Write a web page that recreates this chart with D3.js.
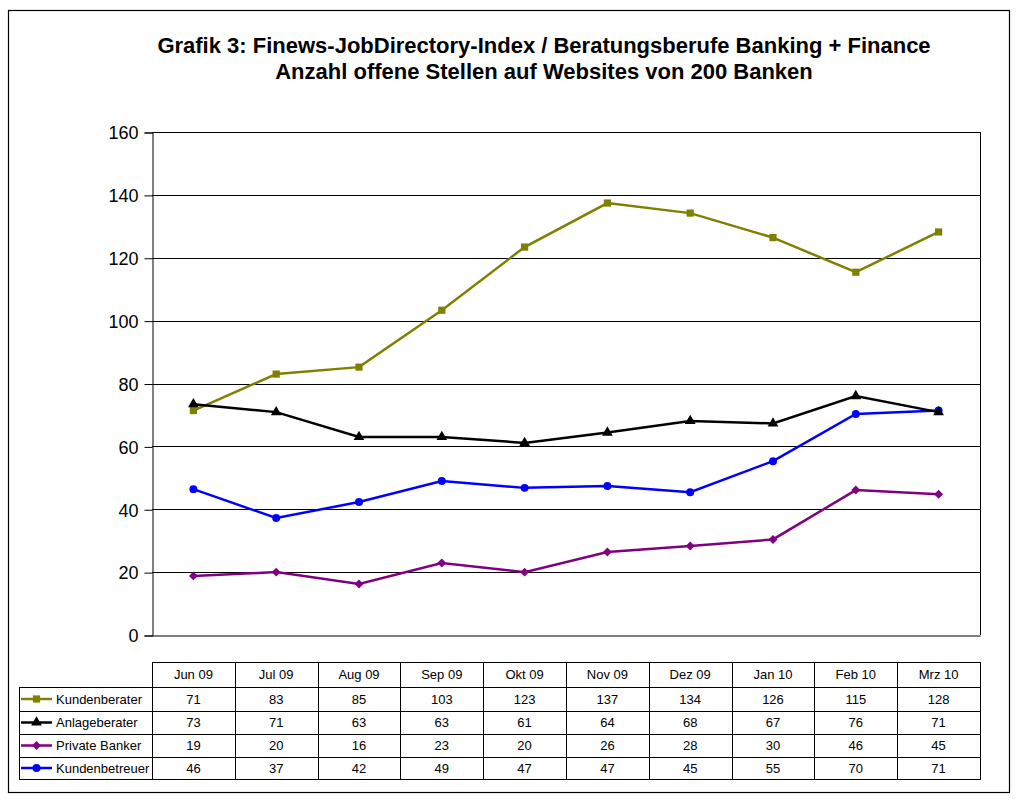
<!DOCTYPE html>
<html><head><meta charset="utf-8">
<script src="https://cdn.jsdelivr.net/npm/d3@7/dist/d3.min.js"></script>
<style>
html,body{margin:0;padding:0;background:#fff;}
svg text{font-family:"Liberation Sans",Arial,sans-serif;}
</style></head>
<body>
<svg id="chart" width="1020" height="802"></svg>
<script>
const categories = ["Jun 09","Jul 09","Aug 09","Sep 09","Okt 09","Nov 09","Dez 09","Jan 10","Feb 10","Mrz 10"];
const seriesNames = ["Kundenberater","Anlageberater","Private Banker","Kundenbetreuer"];
const kundenberater = [71.4,83.0,85.2,103.3,123.4,137.4,134.2,126.4,115.4,128.2];
const anlageberater = [73.4,70.9,63.0,63.0,61.1,64.4,68.1,67.3,76.0,70.9];
const privateBanker = [18.8,20.0,16.2,22.9,20.0,26.4,28.3,30.4,46.1,44.8];
const kundenbetreuer = [46.4,37.2,42.3,49.0,46.8,47.4,45.4,55.3,70.3,71.4];
const tableKundenberater = [71,83,85,103,123,137,134,126,115,128];
const tableAnlageberater = [73,71,63,63,61,64,68,67,76,71];
const tablePrivateBanker = [19,20,16,23,20,26,28,30,46,45];
const tableKundenbetreuer = [46,37,42,49,47,47,45,55,70,71];
const yTicks = [0,20,40,60,80,100,120,140,160];
const titleLines = ["Grafik 3: Finews-JobDirectory-Index / Beratungsberufe Banking + Finance","Anzahl offene Stellen auf Websites von 200 Banken"];

const series = [
  {name:seriesNames[0], values:kundenberater, table:tableKundenberater, color:"#808000", marker:"square"},
  {name:seriesNames[1], values:anlageberater, table:tableAnlageberater, color:"#000000", marker:"triangle"},
  {name:seriesNames[2], values:privateBanker, table:tablePrivateBanker, color:"#800080", marker:"diamond"},
  {name:seriesNames[3], values:kundenbetreuer, table:tableKundenbetreuer, color:"#0000ff", marker:"circle"}
];

const svg = d3.select("#chart");
svg.append("rect").attr("x",8.5).attr("y",10.5).attr("width",1001).attr("height",782)
  .attr("fill","none").attr("stroke","#000").attr("stroke-width",1.2);

svg.append("g").selectAll("text").data(titleLines).join("text")
  .attr("x",544).attr("y",(d,i)=>53+i*26).attr("text-anchor","middle")
  .attr("font-size",22).attr("font-weight","bold").text(d=>d);

const L=152, R=980, T=132, B=635;
const x = d3.scaleBand().domain(categories).range([L,R]);
const y = d3.scaleLinear().domain([0,160]).range([B,T]);

svg.append("g").selectAll("line").data(yTicks.filter(d=>d>0)).join("line")
  .attr("x1",L).attr("x2",R).attr("y1",d=>Math.round(y(d))+0.5).attr("y2",d=>Math.round(y(d))+0.5)
  .attr("stroke","#000").attr("stroke-width",1);
svg.append("line").attr("x1",R+0.5).attr("x2",R+0.5).attr("y1",T).attr("y2",B).attr("stroke","#000");

const yAxis = d3.axisLeft(y).tickValues(yTicks).tickSize(8).tickPadding(6);
const gy = svg.append("g").attr("transform",`translate(${L+0.5},0.5)`).call(yAxis);
gy.selectAll("text").attr("font-size",18).attr("font-family","Liberation Sans, Arial, sans-serif").attr("fill","#000").attr("dy","0.35em");
gy.selectAll("line").attr("stroke","#000");
gy.select(".domain").attr("stroke","#000");
const xAxis = d3.axisBottom(x).tickSize(0).tickFormat("");
const gx = svg.append("g").attr("transform",`translate(0,${B+0.5})`).call(xAxis);
gx.select(".domain").attr("stroke","#000");

const diamond = {draw(ctx,size){const r=Math.sqrt(size/2);ctx.moveTo(0,-r);ctx.lineTo(r,0);ctx.lineTo(0,r);ctx.lineTo(-r,0);ctx.closePath();}};
const symbolFor = m => m==="square"?d3.symbolSquare:m==="triangle"?d3.symbolTriangle:m==="diamond"?diamond:d3.symbolCircle;
const sizeFor = m => m==="square"?52:m==="triangle"?50:m==="diamond"?40:50;

const line = d3.line().x((d,i)=>x(categories[i])+x.bandwidth()/2).y(d=>y(d));
const drawOrder = [0,2,3,1];
drawOrder.forEach(k=>{
  const s = series[k];
  const g = svg.append("g");
  g.append("path").attr("d",line(s.values)).attr("fill","none").attr("stroke",s.color).attr("stroke-width",2.5);
  g.selectAll("path.m").data(s.values).join("path").attr("class","m")
    .attr("transform",(d,i)=>`translate(${x(categories[i])+x.bandwidth()/2},${y(d)})`)
    .attr("d",d3.symbol().type(symbolFor(s.marker)).size(sizeFor(s.marker)))
    .attr("fill",s.color);
});

const tT=662, hH=25, rowTops=[687,711,734,757], rowBottom=779, legL=19;
const tg = svg.append("g");
tg.append("rect").attr("x",L+0.5).attr("y",tT+0.5).attr("width",R-L).attr("height",rowBottom-tT).attr("fill","none").attr("stroke","#000");
tg.append("rect").attr("x",legL+0.5).attr("y",rowTops[0]+0.5).attr("width",L-legL).attr("height",rowBottom-rowTops[0]).attr("fill","none").attr("stroke","#000");
rowTops.forEach(r=>tg.append("line").attr("x1",legL).attr("x2",R).attr("y1",r+0.5).attr("y2",r+0.5).attr("stroke","#000"));
categories.forEach((c,i)=>{
  const cx = x(c);
  if(i>0) tg.append("line").attr("x1",Math.round(cx)+0.5).attr("x2",Math.round(cx)+0.5).attr("y1",tT).attr("y2",rowBottom).attr("stroke","#000");
  tg.append("text").attr("x",cx+x.bandwidth()/2).attr("y",tT+hH/2).attr("dy","0.35em").attr("text-anchor","middle").attr("font-size",13).text(c);
});
series.forEach((s,k)=>{
  const top = rowTops[k], bot = k<3?rowTops[k+1]:rowBottom, mid=(top+bot)/2;
  tg.append("line").attr("x1",21).attr("x2",52).attr("y1",mid).attr("y2",mid).attr("stroke",s.color).attr("stroke-width",2.5);
  tg.append("path").attr("transform",`translate(36.5,${mid})`).attr("d",d3.symbol().type(symbolFor(s.marker)).size(sizeFor(s.marker))).attr("fill",s.color);
  tg.append("text").attr("x",56).attr("y",mid).attr("dy","0.35em").attr("font-size",13).text(s.name);
  s.table.forEach((v,i)=>{
    tg.append("text").attr("x",x(categories[i])+x.bandwidth()/2).attr("y",mid).attr("dy","0.35em").attr("text-anchor","middle").attr("font-size",13).text(v);
  });
});
</script>
</body></html>
